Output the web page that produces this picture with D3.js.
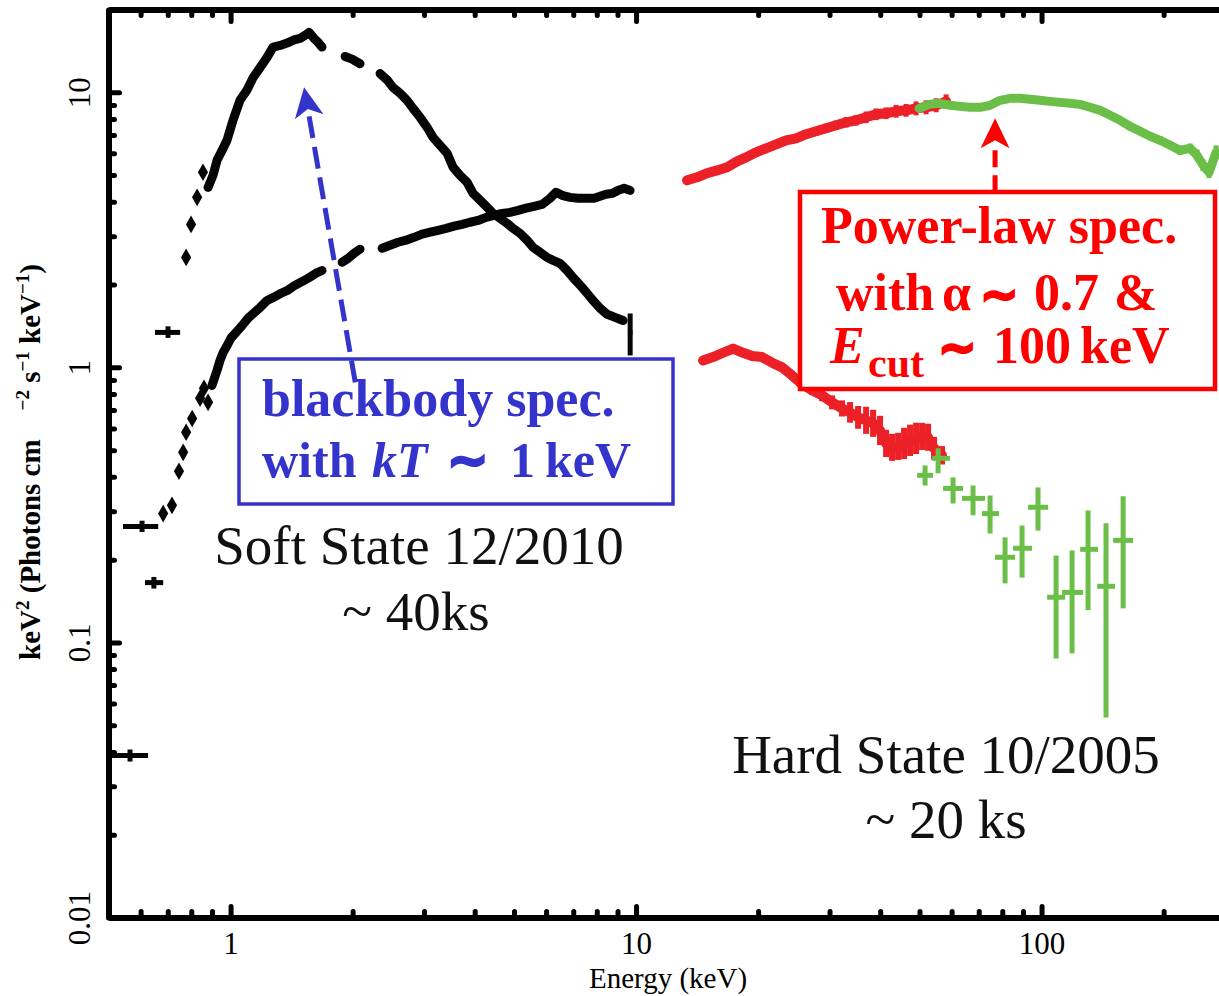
<!DOCTYPE html>
<html>
<head>
<meta charset="utf-8">
<script src="https://cdn.jsdelivr.net/npm/d3@7"></script>
<style>
  body { margin: 0; background: #fff; }
  svg { display: block; }
  text { font-family: "Liberation Serif", "Times New Roman", serif; }
</style>
</head>
<body>
<div class="chart"></div>
<script>
// ---- data (E in keV, F in keV^2 photons cm^-2 s^-1 keV^-1) ----

// soft state 12/2010, XIS (black, blackbody hump) : [E, F]
var softXis = [
  [0.880, 4.51], [0.905, 4.99], [0.926, 5.66], [0.953, 6.15], [0.980, 6.69], [1.014, 7.91],
  [1.055, 9.35], [1.098, 10.2], [1.136, 11.3], [1.182, 12.3], [1.230, 13.4], [1.273, 14.6],
  [1.325, 14.8], [1.378, 15.1], [1.434, 15.5], [1.484, 15.7], [1.526, 16.1], [1.562, 16.5],
  [1.607, 15.7], [1.644, 15.2], [1.681, 14.6],
  [1.916, 13.5], [1.994, 13.2], [2.086, 12.7],
  [2.337, 11.7], [2.432, 11.1], [2.516, 10.4], [2.618, 9.92], [2.724, 9.35], [2.818, 8.74],
  [2.933, 8.11], [3.052, 7.46], [3.158, 6.86], [3.286, 6.41], [3.420, 6.00], [3.538, 5.34],
  [3.681, 4.99], [3.830, 4.71], [3.963, 4.29], [4.124, 4.05], [4.291, 3.82], [4.440, 3.63],
  [4.620, 3.48], [4.806, 3.34], [4.974, 3.20], [5.176, 3.07], [5.385, 2.90], [5.572, 2.73],
  [5.799, 2.62], [6.034, 2.51], [6.243, 2.45], [6.496, 2.39], [6.759, 2.25], [6.993, 2.12],
  [7.277, 1.99], [7.572, 1.86], [7.834, 1.75], [8.151, 1.64], [8.482, 1.56], [8.877, 1.52],
  [9.289, 1.48]
];
// separate low-energy bins of the soft XIS spectrum : [E, F]
var softXisDots = [[0.777, 2.51], [0.799, 3.31], [0.827, 4.15], [0.855, 5.12]];
// wide bins of the soft XIS spectrum : [E, Elo, Ehi, F, Flo, Fhi]
var softXisWide = [
  [0.565, 0.510, 0.626, 0.0388, 0.0369, 0.0408],
  [0.647, 0.615, 0.682, 0.165, 0.157, 0.173],
  [0.701, 0.651, 0.751, 1.34, 1.28, 1.41],
  [9.67, 9.55, 9.80, 1.34, 1.105, 1.57]
];

// hard state 10/2005, XIS (black, rising power law) : [E, F]
var hardXis = [
  [0.900, 0.860], [0.926, 0.975], [0.942, 1.06],
  [0.958, 1.13], [0.980, 1.20], [1.003, 1.28], [1.032, 1.34], [1.068, 1.42], [1.105, 1.51],
  [1.143, 1.58], [1.182, 1.65], [1.230, 1.75], [1.280, 1.80], [1.332, 1.86], [1.386, 1.91],
  [1.443, 1.99], [1.501, 2.05], [1.562, 2.12], [1.625, 2.20], [1.681, 2.25],
  [1.884, 2.41], [1.949, 2.49], [2.017, 2.60], [2.086, 2.69],
  [2.364, 2.71], [2.474, 2.78], [2.588, 2.85], [2.709, 2.90], [2.835, 2.97], [2.967, 3.05],
  [3.105, 3.10], [3.250, 3.15], [3.401, 3.20], [3.558, 3.26], [3.723, 3.31], [3.896, 3.37],
  [4.077, 3.42], [4.267, 3.51], [4.465, 3.57], [4.672, 3.63], [4.890, 3.66], [5.117, 3.72],
  [5.355, 3.79], [5.603, 3.85], [5.864, 3.91], [6.136, 4.12], [6.349, 4.33], [6.569, 4.22],
  [6.875, 4.15], [7.194, 4.12], [7.528, 4.12], [7.877, 4.12], [8.151, 4.19], [8.433, 4.26],
  [8.726, 4.29], [9.029, 4.40], [9.342, 4.48], [9.666, 4.40]
];
var hardXisDots = [
  [0.682, 0.294], [0.717, 0.315], [0.746, 0.419], [0.764, 0.491], [0.777, 0.581],
  [0.804, 0.652], [0.841, 0.772], [0.860, 0.839], [0.880, 0.746]
];
var hardXisWide = [
  [0.605, 0.543, 0.663, 0.264, 0.252, 0.277]
];

// hard state, PIN (red) : [E, F, relErr]
var hardPin = [
  [13.36, 4.79, 0.02], [14.14, 4.91, 0.02], [14.97, 5.08, 0.02], [15.84, 5.20, 0.02],
  [16.77, 5.34, 0.02], [17.75, 5.61, 0.02], [18.68, 5.80, 0.025], [19.77, 6.05, 0.025],
  [20.92, 6.26, 0.025], [22.15, 6.47, 0.03], [23.44, 6.69, 0.03], [24.81, 6.80, 0.03],
  [26.26, 7.04, 0.035], [27.79, 7.22, 0.035], [29.42, 7.40, 0.04], [31.14, 7.59, 0.04],
  [32.96, 7.78, 0.045], [34.88, 7.91, 0.045], [36.92, 8.11, 0.05], [39.08, 8.32, 0.05],
  [41.36, 8.39, 0.05], [43.78, 8.53, 0.055], [46.34, 8.60, 0.055], [49.04, 8.74, 0.06],
  [51.91, 8.82, 0.06], [54.95, 8.97, 0.06], [58.15, 9.27, 0.06]
];

// hard state, GSO (green) : [E, F, relErr]
var hardGso = [
  [49.88, 8.74, 0.015], [52.80, 9.04, 0.015], [55.88, 9.12, 0.015], [59.48, 8.97, 0.015],
  [62.95, 8.89, 0.015], [66.63, 8.82, 0.015], [70.53, 8.82, 0.015], [74.65, 8.97, 0.015],
  [79.02, 9.35, 0.015], [83.62, 9.51, 0.015], [88.51, 9.51, 0.015], [93.68, 9.43, 0.015],
  [99.15, 9.35, 0.015], [104.9, 9.27, 0.015], [111.1, 9.19, 0.015], [117.6, 9.12, 0.015],
  [124.5, 9.04, 0.02], [131.7, 8.82, 0.02], [139.4, 8.60, 0.02], [147.6, 8.25, 0.025],
  [156.2, 7.91, 0.025], [165.3, 7.52, 0.03], [175.0, 7.22, 0.03], [185.2, 6.92, 0.03],
  [196.0, 6.69, 0.035], [207.5, 6.42, 0.035], [219.6, 6.15, 0.04], [232.4, 6.26, 0.04],
  [241.8, 5.90, 0.05], [250.2, 5.43, 0.05], [258.9, 5.12, 0.05], [269.4, 6.05, 0.06]
];

// soft state, PIN (red) : [E, F, relErr]
var softPin = [
  [14.63, 1.06, 0.02], [15.48, 1.09, 0.02], [16.39, 1.13, 0.02], [17.35, 1.17, 0.02],
  [18.36, 1.13, 0.02], [19.33, 1.10, 0.02], [20.45, 1.09, 0.025], [21.65, 1.04, 0.025],
  [22.92, 1.00, 0.03], [24.25, 0.935, 0.03], [25.67, 0.868, 0.04], [27.17, 0.825, 0.04],
  [28.76, 0.791, 0.05], [30.44, 0.746, 0.06], [32.21, 0.709, 0.07], [33.71, 0.686, 0.09],
  [35.28, 0.658, 0.1], [36.92, 0.642, 0.12], [38.42, 0.626, 0.12], [39.97, 0.590, 0.13],
  [41.36, 0.529, 0.12], [42.79, 0.512, 0.12], [44.28, 0.516, 0.12], [45.81, 0.529, 0.14],
  [47.40, 0.543, 0.14], [49.04, 0.552, 0.14], [50.74, 0.561, 0.12], [52.49, 0.557, 0.12],
  [54.31, 0.508, 0.1], [56.83, 0.479, 0.08]
];

// soft state, GSO (green) : [E, Elo, Ehi, F, Flo, Fhi]
var softGso = [
  [51.61, 49.32, 54.00, 0.405, 0.372, 0.440],
  [55.57, 53.70, 59.48, 0.467, 0.412, 0.508],
  [60.50, 57.15, 64.03, 0.363, 0.320, 0.398],
  [67.76, 63.67, 72.56, 0.334, 0.290, 0.372],
  [74.65, 71.33, 78.56, 0.294, 0.249, 0.342],
  [81.28, 76.79, 86.03, 0.204, 0.164, 0.241],
  [89.52, 85.06, 94.76, 0.220, 0.172, 0.266],
  [98.00, 92.61, 103.8, 0.310, 0.255, 0.366],
  [108.6, 103.2, 114.3, 0.146, 0.0874, 0.207],
  [118.9, 112.4, 126.6, 0.152, 0.0912, 0.216],
  [130.2, 124.5, 137.8, 0.218, 0.131, 0.302],
  [144.2, 137.1, 151.8, 0.160, 0.0534, 0.271],
  [158.9, 150.1, 168.1, 0.235, 0.133, 0.340]
];

// axis ticks
var xMajor = [1, 10, 100];
var xMinor = [0.6, 0.7, 0.8, 0.9, 2, 3, 4, 5, 6, 7, 8, 9, 20, 30, 40, 50, 60, 70, 80, 90, 200, 300];
var yMajor = [0.01, 0.1, 1, 10];
var yMinor = [0.02, 0.03, 0.04, 0.05, 0.06, 0.07, 0.08, 0.09,
              0.2, 0.3, 0.4, 0.5, 0.6, 0.7, 0.8, 0.9, 2, 3, 4, 5, 6, 7, 8, 9, 20];

// annotation arrows in data coordinates
var bbArrow = { from: [2.03, 0.882], to: [1.518, 10.43] };
var plArrow = { from: [76.8, 4.33], to: [76.8, 8.04] };

// ---- layout ----
var margin = { top: 9.5, left: 108.5 },
  chart_width = 1140,
  chart_height = 908;

var svg = d3.select(".chart").append("svg")
  .attr("width", 1219)
  .attr("height", 996);

var g = svg.append("g")
  .attr("transform", "translate(" + margin.left + "," + margin.top + ")");

var xScale = d3.scaleLog().domain([0.5, 0.5 * Math.pow(10, chart_width / 405.5)]).range([0, chart_width]);
var yScale = d3.scaleLog().domain([0.01, 20]).range([chart_height, 0]);

var BLACK = "#050505", RED = "#ec2027", GREEN = "#6bbf48", BLUE = "#3434cc";

// dense spectrum: neighbouring bins joined into a thick band (split where the
// spectrum has a gap), with each bin's vertical error bar on top
function drawBand(data, color, defErr, gap, lineW, barW) {
  var segs = [[]];
  data.forEach(function (d, i) {
    if (i > 0 && Math.log10(d[0] / data[i - 1][0]) > gap) segs.push([]);
    segs[segs.length - 1].push(d);
  });
  var lineGen = d3.line()
    .x(function (d) { return xScale(d[0]); })
    .y(function (d) { return yScale(d[1]); });
  var grp = g.append("g");
  grp.selectAll("path").data(segs).join("path")
    .attr("d", lineGen)
    .attr("fill", "none")
    .attr("stroke", color)
    .attr("stroke-width", lineW)
    .attr("stroke-linejoin", "round")
    .attr("stroke-linecap", "round");
  grp.selectAll("line").data(data).join("line")
    .attr("x1", function (d) { return xScale(d[0]); })
    .attr("x2", function (d) { return xScale(d[0]); })
    .attr("y1", function (d) { return yScale(d[1] * (1 + (d.length > 2 ? d[2] : defErr))); })
    .attr("y2", function (d) { return yScale(d[1] / (1 + (d.length > 2 ? d[2] : defErr))); })
    .attr("stroke", color)
    .attr("stroke-width", barW);
}

// separate bins drawn as small diamonds
function drawDots(data, color, size) {
  g.append("g").attr("fill", color)
    .selectAll("path").data(data).join("path")
    .attr("transform", function (d) { return "translate(" + xScale(d[0]) + "," + yScale(d[1]) + ")"; })
    .attr("d", d3.symbol(d3.symbolDiamond, size));
}

// isolated bins with explicit error bars
function drawCrosses(data, color, width) {
  var grp = g.append("g").attr("stroke", color).attr("stroke-width", width).attr("stroke-linecap", "butt");
  grp.selectAll("line.h").data(data).join("line").attr("class", "h")
    .attr("x1", function (d) { return xScale(d[1]); })
    .attr("x2", function (d) { return xScale(d[2]); })
    .attr("y1", function (d) { return yScale(d[3]); })
    .attr("y2", function (d) { return yScale(d[3]); });
  grp.selectAll("line.v").data(data).join("line").attr("class", "v")
    .attr("x1", function (d) { return xScale(d[0]); })
    .attr("x2", function (d) { return xScale(d[0]); })
    .attr("y1", function (d) { return yScale(d[5]); })
    .attr("y2", function (d) { return yScale(d[4]); });
}

drawBand(softXis, BLACK, 0.025, 0.03, 9, 5);
drawDots(softXisDots, BLACK, 90);
drawCrosses(softXisWide, BLACK, 5);
drawBand(hardXis, BLACK, 0.025, 0.03, 9, 5);
drawDots(hardXisDots, BLACK, 90);
drawCrosses(hardXisWide, BLACK, 5);
drawBand(hardPin, RED, 0.03, 0.03, 10, 5);
drawBand(softPin, RED, 0.03, 0.03, 10, 6);
drawBand(hardGso, GREEN, 0.02, 0.03, 9, 5);
drawCrosses(softGso, GREEN, 5);

// ---- axes ----
function styleAxis(sel, withDomain) {
  sel.selectAll(".tick line").attr("stroke", "#000").attr("stroke-width", 5).attr("stroke-linecap", "round");
  if (withDomain) sel.select(".domain").attr("stroke", "#000").attr("stroke-width", 6);
  else sel.select(".domain").remove();
}

// bottom
var xAxisMajor = g.append("g").attr("transform", "translate(0," + chart_height + ")")
  .call(d3.axisBottom(xScale).tickValues(xMajor).tickSize(-11).tickSizeOuter(0).tickFormat(d3.format("~g")));
styleAxis(xAxisMajor, true);
xAxisMajor.selectAll(".tick text").attr("y", 36).attr("dy", 0)
  .attr("font-size", "31px").attr("font-family", "Liberation Serif").attr("fill", "#000");
var xAxisMinor = g.append("g").attr("transform", "translate(0," + chart_height + ")")
  .call(d3.axisBottom(xScale).tickValues(xMinor).tickSize(-6).tickSizeOuter(0).tickFormat(""));
styleAxis(xAxisMinor, false);

// top
var xTop = g.append("g").call(d3.axisTop(xScale).tickValues(xMajor).tickSize(-12).tickSizeOuter(0).tickFormat(""));
styleAxis(xTop, true);
var xTopMinor = g.append("g").call(d3.axisTop(xScale).tickValues(xMinor).tickSize(-6).tickSizeOuter(0).tickFormat(""));
styleAxis(xTopMinor, false);

// left
var yAxisMajor = g.append("g")
  .call(d3.axisLeft(yScale).tickValues(yMajor).tickSize(-11).tickSizeOuter(0).tickFormat(d3.format("~g")));
styleAxis(yAxisMajor, true);
yAxisMajor.selectAll(".tick text")
  .attr("x", 0).attr("dy", 0)
  .attr("transform", "translate(-19,0) rotate(-90)")
  .attr("text-anchor", "middle")
  .attr("font-size", "31px").attr("font-family", "Liberation Serif").attr("fill", "#000");
var yAxisMinor = g.append("g")
  .call(d3.axisLeft(yScale).tickValues(yMinor).tickSize(-6).tickSizeOuter(0).tickFormat(""));
styleAxis(yAxisMinor, false);

// axis titles
svg.append("text")
  .attr("x", 668).attr("y", 988)
  .attr("text-anchor", "middle")
  .attr("font-size", "29px")
  .text("Energy (keV)");

var yTitle = svg.append("text")
  .attr("transform", "translate(40,462) rotate(-90)")
  .attr("text-anchor", "middle")
  .attr("font-size", "29px")
  .attr("font-weight", "bold");
yTitle.append("tspan").text("keV");
yTitle.append("tspan").attr("font-size", "19px").attr("dy", -11).text("2");
yTitle.append("tspan").attr("dy", 11).text(" (Photons cm\u2003");
yTitle.append("tspan").attr("font-size", "19px").attr("dy", -11).text("\u22122");
yTitle.append("tspan").attr("dy", 11).text(" s");
yTitle.append("tspan").attr("font-size", "19px").attr("dy", -11).text("\u22121");
yTitle.append("tspan").attr("dy", 11).text(" keV");
yTitle.append("tspan").attr("font-size", "19px").attr("dy", -11).text("\u22121");
yTitle.append("tspan").attr("dy", 11).text(")");

// ---- state labels ----
function label(x, y, txt) {
  svg.append("text").attr("x", x).attr("y", y)
    .attr("text-anchor", "middle").attr("font-size", "55px").attr("fill", "#111")
    .text(txt);
}
label(419, 564, "Soft State 12/2010");
label(416, 630, "~ 40ks");
label(946, 773, "Hard State 10/2005");
label(946, 838, "~ 20 ks");

// ---- annotation boxes ----
svg.append("rect").attr("x", 239).attr("y", 359).attr("width", 434).attr("height", 145)
  .attr("fill", "none").attr("stroke", BLUE).attr("stroke-width", 3.5);

var bb1 = svg.append("text").attr("y", 416).attr("font-size", "52px").attr("font-weight", "bold").attr("fill", BLUE);
bb1.append("tspan").attr("x", 262).text("blackbody spec.");
var bb2 = svg.append("text").attr("y", 477).attr("font-size", "50px").attr("font-weight", "bold").attr("fill", BLUE);
bb2.append("tspan").attr("x", 262).text("with");
bb2.append("tspan").attr("x", 372).attr("font-style", "italic").text("kT");
bb2.append("tspan").attr("x", 447).attr("font-family", "DejaVu Sans")
  .attr("stroke", BLUE).attr("stroke-width", 2.5).text("\u223C");
bb2.append("tspan").attr("x", 510).text("1");
bb2.append("tspan").attr("x", 545).text("keV");

svg.append("rect").attr("x", 800).attr("y", 192).attr("width", 415).attr("height", 197)
  .attr("fill", "#fff").attr("stroke", "#ff0000").attr("stroke-width", 4.5);

var pl1 = svg.append("text").attr("y", 243).attr("font-size", "52px").attr("font-weight", "bold").attr("fill", "#ff0000");
pl1.append("tspan").attr("x", 821).text("Power-law spec.");
var pl2 = svg.append("text").attr("y", 310).attr("font-size", "52px").attr("font-weight", "bold").attr("fill", "#ff0000");
pl2.append("tspan").attr("x", 836).text("with");
pl2.append("tspan").attr("x", 942).text("\u03B1");
pl2.append("tspan").attr("x", 980).attr("font-size", "46px").attr("font-family", "DejaVu Sans")
  .attr("stroke", "#ff0000").attr("stroke-width", 2.5).text("\u223C");
pl2.append("tspan").attr("x", 1034).text("0.7");
pl2.append("tspan").attr("x", 1114).text("&");
var pl3 = svg.append("text").attr("y", 363).attr("font-size", "52px").attr("font-weight", "bold").attr("fill", "#ff0000");
pl3.append("tspan").attr("x", 830).attr("font-style", "italic").text("E");
pl3.append("tspan").attr("x", 868).attr("dy", 14).attr("font-size", "42px").text("cut");
pl3.append("tspan").attr("x", 938).attr("dy", -14).attr("font-size", "46px").attr("font-family", "DejaVu Sans")
  .attr("stroke", "#ff0000").attr("stroke-width", 2.5).text("\u223C");
pl3.append("tspan").attr("x", 993).text("100");
pl3.append("tspan").attr("x", 1080).text("keV");

// ---- dashed arrows ----
function drawArrow(a, color, dash) {
  var x0 = margin.left + xScale(a.from[0]), y0 = margin.top + yScale(a.from[1]);
  var x1 = margin.left + xScale(a.to[0]), y1 = margin.top + yScale(a.to[1]);
  var dx = x1 - x0, dy = y1 - y0, len = Math.sqrt(dx * dx + dy * dy);
  var ux = dx / len, uy = dy / len, headL = 30, headW = 14.5;
  var bx = x1 - ux * headL, by = y1 - uy * headL;
  svg.append("line")
    .attr("x1", x0).attr("y1", y0).attr("x2", bx + ux * 4).attr("y2", by + uy * 4)
    .attr("stroke", color).attr("stroke-width", 5).attr("stroke-dasharray", dash);
  svg.append("path")
    .attr("d", "M" + x1 + "," + y1 +
      "L" + (bx - uy * headW) + "," + (by + ux * headW) +
      "L" + (bx + ux * 8) + "," + (by + uy * 8) +
      "L" + (bx + uy * headW) + "," + (by - ux * headW) + "Z")
    .attr("fill", color);
}
drawArrow(bbArrow, BLUE, "22,9");
drawArrow(plArrow, "#ff0000", "17,8");
</script>
</body>
</html>
